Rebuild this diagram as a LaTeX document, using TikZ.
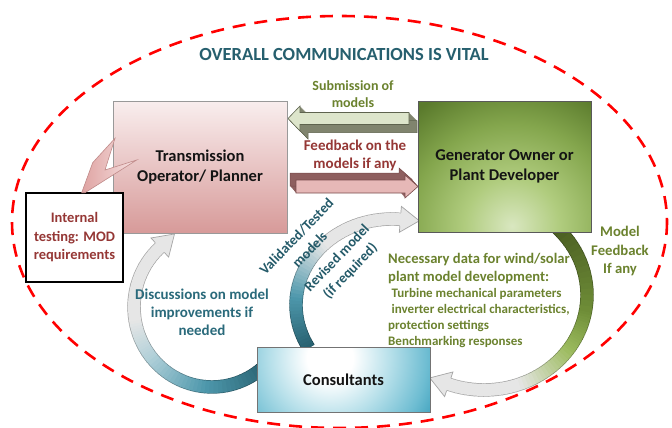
\documentclass[tikz,border=0pt]{standalone}
\usepackage{fontspec}
\setmainfont{Carlito}

% palette
\definecolor{ellred}{HTML}{FF0000}
\definecolor{titleteal}{HTML}{265F6E}
\definecolor{olivetxt}{HTML}{6B822E}
\definecolor{redtxt}{HTML}{953735}
\definecolor{tealtxt}{HTML}{2A6A7B}
\definecolor{tsoTop}{HTML}{F9EEEE}
\definecolor{tsoBot}{HTML}{D79A99}
\definecolor{genA}{HTML}{D9E7C0}
\definecolor{genB}{HTML}{B0CC7E}
\definecolor{genC}{HTML}{84A64D}
\definecolor{genD}{HTML}{5A7A2C}
\definecolor{conA}{HTML}{FFFFFF}
\definecolor{conB}{HTML}{B7E0EA}
\definecolor{conC}{HTML}{6EBDD2}
\definecolor{conD}{HTML}{45A5C0}
\definecolor{tdark}{HTML}{27606F}
\definecolor{tmid}{HTML}{4E98AC}
\definecolor{tpale}{HTML}{AFCFD8}
\definecolor{agray}{HTML}{E6E6E6}
\definecolor{gdark}{HTML}{4A5E22}
\definecolor{gmid}{HTML}{6F8E38}
\definecolor{glight}{HTML}{9CBB5E}
\definecolor{subface}{HTML}{DDE5CB}
\definecolor{subdark}{HTML}{80846E}
\definecolor{subedge}{HTML}{5E634E}
\definecolor{fbface}{HTML}{E6B8B7}
\definecolor{fbdark}{HTML}{8E5F5F}
\definecolor{fbedge}{HTML}{7A4C4C}
\definecolor{lgtL}{HTML}{DFA3A2}
\definecolor{lgtR}{HTML}{F6E2E2}
\definecolor{lgtE}{HTML}{C08A89}

\pgfdeclareradialshading{genshade}{\pgfpoint{0bp}{0bp}}{color(0bp)=(genA); color(7bp)=(genB); color(15bp)=(genC); color(22bp)=(genD); color(25bp)=(genD); color(50bp)=(genD)}
\pgfdeclareradialshading{conshade}{\pgfpoint{0bp}{0bp}}{color(0bp)=(conA); color(5bp)=(conA); color(13bp)=(conB); color(21bp)=(conC); color(25bp)=(conD); color(50bp)=(conD)}

\def\arcw{12pt}
\def\arcwn{12}

% one stretch of a thick elliptic band whose colour runs from #7 to #8
% #1,#2 centre; #3,#4 radii; #5,#6 angles; #9 = 1 for the rim pass, 0 for the fill pass
\newcommand{\gradarc}[9]{%
  \foreach \k in {1,...,16}{%
    \pgfmathsetmacro\sa{(#5)+((#6)-(#5))*(\k-1)/16}%
    \pgfmathsetmacro\ea{(#5)+((#6)-(#5))*\k/16+0.5}%
    \pgfmathtruncatemacro\pc{100*(\k-0.5)/16}%
    \ifnum#9=1\relax
      \draw[line width=\arcw+1.4pt, draw={#8!\pc!#7!72!black}]
        ({#1+#3*cos(\sa)},{#2+#4*sin(\sa)}) arc[start angle=\sa, end angle=\ea, x radius=#3, y radius=#4];
    \else
      \draw[line width=\arcw, draw={#8!\pc!#7}]
        ({#1+#3*cos(\sa)},{#2+#4*sin(\sa)}) arc[start angle=\sa, end angle=\ea, x radius=#3, y radius=#4];
    \fi
  }%
}

% arrow head at angle #5 of the band, length #6, half width #7, colour #8
\newcommand{\archead}[8]{%
  \pgfmathsetmacro\hx{#1+#3*cos(#5)}%
  \pgfmathsetmacro\hy{#2+#4*sin(#5)}%
  \pgfmathsetmacro\tx{-#3*sin(#5)}%
  \pgfmathsetmacro\ty{#4*cos(#5)}%
  \pgfmathsetmacro\tl{veclen(\tx,\ty)}%
  \pgfmathsetmacro\ux{\tx/\tl}%
  \pgfmathsetmacro\uy{\ty/\tl}%
  \fill[#8] ({\hx-#7*\uy},{\hy+#7*\ux}) -- ({\hx+#6*\ux},{\hy+#6*\uy}) -- ({\hx+#7*\uy},{\hy-#7*\ux}) -- cycle;
  \draw[#8!72!black, line width=0.7pt, line join=miter]
    ({\hx-(\arcwn/2+0.7)*\uy},{\hy+(\arcwn/2+0.7)*\ux}) -- ({\hx-#7*\uy},{\hy+#7*\ux})
    -- ({\hx+#6*\ux},{\hy+#6*\uy}) -- ({\hx+#7*\uy},{\hy-#7*\ux})
    -- ({\hx+(\arcwn/2+0.7)*\uy},{\hy-(\arcwn/2+0.7)*\ux});
}

% the three curved flows
\newcommand{\discussband}[1]{%
  \gradarc{212}{307}{78}{80}{45}{95}{tdark}{tmid}{#1}%
  \gradarc{212}{307}{78}{80}{95}{140}{tmid}{tpale}{#1}%
  \gradarc{212}{307}{78}{80}{140}{170}{tpale}{agray}{#1}%
  \gradarc{212}{307}{78}{80}{170}{228}{agray}{agray}{#1}}
\newcommand{\validband}[1]{%
  \gradarc{392}{305}{96}{86}{150}{185}{tdark}{tmid}{#1}%
  \gradarc{392}{305}{96}{86}{185}{225}{tmid}{agray}{#1}%
  \gradarc{392}{305}{96}{86}{225}{275}{agray}{agray}{#1}}
\newcommand{\feedband}[1]{%
  \gradarc{484}{295}{103}{95}{-45}{10}{gdark}{gmid}{#1}%
  \gradarc{484}{295}{103}{95}{10}{35}{gmid}{glight}{#1}%
  \gradarc{484}{295}{103}{95}{35}{70}{glight}{agray}{#1}%
  \gradarc{484}{295}{103}{95}{70}{110}{agray}{agray}{#1}}

% block arrows with depth
\newcommand{\subpoly}[1]{\path[#1] (288,118.5) -- (300,106) -- (300,112.5) -- (409,112.5) -- (409,124.5) -- (300,124.5) -- (300,131) -- cycle;}
\newcommand{\fbpoly}[1]{\path[#1] (296,180) -- (405,180) -- (405,175) -- (418,186.5) -- (405,198) -- (405,193) -- (296,193) -- cycle;}

\begin{document}
\begin{tikzpicture}[x=1pt,y=-1pt,
  every node/.style={inner sep=0pt},
  boxlabel/.style={font=\fontsize{16.5}{20.5}\selectfont\bfseries, text=black!92, align=center},
  heading/.style={font=\fontsize{18.5}{22}\selectfont\bfseries, text=titleteal},
  olivelbl/.style={font=\fontsize{14.5}{18}\selectfont\bfseries, text=olivetxt, align=center},
  redlbl/.style={font=\fontsize{15}{17.5}\selectfont\bfseries, text=redtxt, align=center},
  teallbl/.style={font=\fontsize{15}{18}\selectfont\bfseries, text=tealtxt, align=center},
  slantlbl/.style={font=\fontsize{14.2}{18.5}\selectfont\bfseries, text=tealtxt!85!black, align=center, rotate=46},
  smallolive/.style={font=\fontsize{13}{16}\selectfont\bfseries, text=olivetxt, align=left},
  bigolive/.style={font=\fontsize{14.6}{18}\selectfont\bfseries, text=olivetxt, align=left}]

\useasboundingbox (0,0) rectangle (672,428);
\fill[white] (0,0) rectangle (672,428);

% boundary of the whole exchange
\draw[ellred, line width=2.6pt, dash pattern=on 13pt off 9pt] (339.5,222) ellipse [x radius=327.5, y radius=206];

% curved flows (drawn under the boxes)
\discussband{1}\discussband{0}
\archead{212}{307}{78}{80}{228}{20}{13}{agray}
\validband{1}\validband{0}
\archead{392}{305}{96}{86}{275}{19}{13}{agray}
\feedband{1}\feedband{0}
\archead{484}{295}{103}{95}{110}{20}{13}{agray}

% submission of models (towards the planner)
\foreach \d in {1,...,16}{\begin{scope}[shift={({8*\d/16},{8*\d/16})}]\subpoly{fill=subdark}\end{scope}}
\begin{scope}[shift={(8,8)}]\subpoly{draw=subedge, line width=0.5pt}\end{scope}
\subpoly{fill=subface, draw=subedge, line width=0.6pt}

% feedback (towards the owner)
\foreach \d in {1,...,16}{\begin{scope}[shift={({-6*\d/16},{-7*\d/16})}]\fbpoly{fill=fbdark}\end{scope}}
\begin{scope}[shift={(-6,-7)}]\fbpoly{draw=fbedge, line width=0.5pt}\end{scope}
\fbpoly{fill=fbface, draw=fbedge, line width=0.6pt}

% parties
\node[boxlabel, draw=black!40, line width=0.8pt, top color=tsoTop, bottom color=tsoBot,
      minimum width=174, minimum height=132] (tso) at (200,167) {Transmission\\Operator/ Planner};

\begin{scope}
  \clip (418,101) rectangle (591,232);
  \shade[shading=genshade] (512,226) circle (170);
\end{scope}
\node[boxlabel, draw=black!65, line width=0.8pt, minimum width=173, minimum height=131] (gen) at (504.5,166.5) {Generator Owner or\\Plant Developer};

\begin{scope}
  \clip (257,347) rectangle (430,412);
  \shade[shading=conshade] (330,358) circle (115);
\end{scope}
\node[boxlabel, draw=black!55, line width=0.8pt, minimum width=173, minimum height=65] (cons) at (343.5,379.5) {Consultants};

\node[font=\fontsize{14.5}{18.5}\selectfont\bfseries, text=redtxt, align=center, draw=black, line width=1.4pt, fill=white,
      minimum width=97, minimum height=89] (internal) at (74.5,237.5) {Internal\\testing: MOD\\requirements};

% bent pointer from the planner to its internal testing
\shadedraw[left color=lgtL, right color=lgtR, draw=lgtE, line width=0.6pt, line join=miter]
  (81.7,192.7) -- (92.7,162.7) -- (115,138.3) -- (105,170) -- (136.7,160) -- (85,192.7) -- cycle;

% labels
\node[heading] (title) at (344,55) {OVERALL COMMUNICATIONS IS VITAL};
\node[olivelbl, font=\fontsize{14}{17}\selectfont\bfseries] (sublbl) at (353,94) {Submission of\\models};
\node[redlbl] (fblbl) at (355,155.5) {Feedback on the\\models if any};
\node[teallbl] (disclbl) at (202,312) {Discussions on model\\improvements if\\needed};
\node[slantlbl] (vallbl) at (303,243) {Validated/Tested\\models};
\node[slantlbl] (revlbl) at (344,265) {Revised model\\(if required)};
\node[olivelbl, font=\fontsize{14.7}{18.3}\selectfont\bfseries] (mflbl) at (620,251) {Model\\Feedback\\If any};
\node[bigolive, anchor=west] (needlbl) at (388,269) {Necessary data for wind/solar\\plant model development:};
\node[smallolive, anchor=west] (needlist) at (388,318) {\hspace*{3.5pt}Turbine mechanical parameters\\\hspace*{3.5pt}inverter electrical characteristics,\\protection settings\\Benchmarking responses};

\end{tikzpicture}
\end{document}
